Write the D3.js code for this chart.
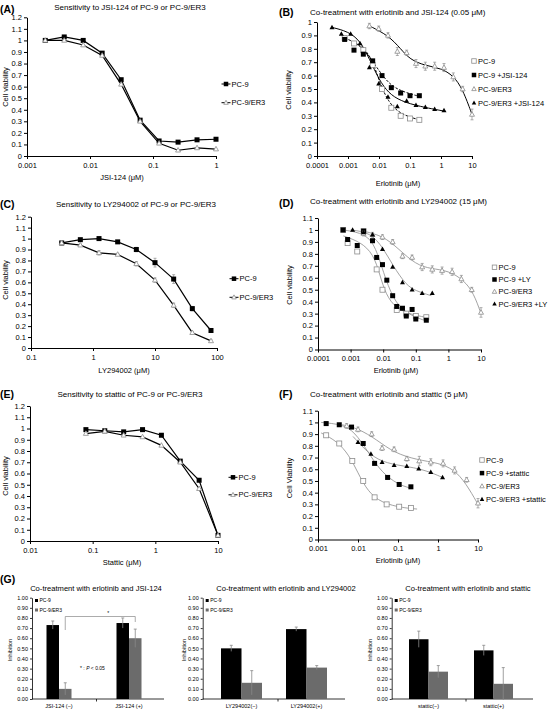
<!DOCTYPE html>
<html><head><meta charset="utf-8">
<script src="https://cdn.jsdelivr.net/npm/d3@7"></script>
<style>
body{margin:0;background:#fff}
svg{display:block}
text{font-family:"Liberation Sans",Arial,sans-serif;fill:#000}
</style>
</head><body><svg id="c" width="551" height="711"></svg>
<script>
// ---------------- DATA ----------------
// Panel A
const A_conc = [0.00195,0.0039,0.0078,0.0156,0.03125,0.0625,0.125,0.25,0.5,1];
const A_pc9  = [1.00,1.03,1.00,0.89,0.66,0.31,0.13,0.12,0.14,0.145];
const A_er3  = [1.00,1.00,0.96,0.87,0.62,0.30,0.11,0.05,0.07,0.06];
const A_xticks = [0.001,0.01,0.1,1];
// Panel B
const B_pc9_x   = [0.00078,0.00156,0.003125,0.00625,0.0125,0.025,0.05,0.1,0.2];
const B_pc9     = [0.88,0.84,0.79,0.68,0.50,0.36,0.30,0.28,0.27];
const B_pc9jsi  = [0.87,0.79,0.76,0.71,0.60,0.51,0.47,0.45,0.45];
const B_er3_x   = [0.0049,0.0098,0.0195,0.039,0.078,0.156,0.3125,0.625,1.25,2.5,5,10];
const B_er3     = [0.97,0.95,0.90,0.78,0.77,0.69,0.67,0.67,0.66,0.59,0.50,0.31];
const B_er3_err = [0.02,0.02,0.02,0.03,0.02,0.03,0.03,0.03,0.03,0.03,0.02,0.04];
const B_er3jsi_x= [0.000305,0.00061,0.00122,0.00244,0.0049,0.0098,0.0195,0.039,0.078,0.156,0.3125,0.625,1.25];
const B_er3jsi  = [0.96,0.91,0.91,0.84,0.66,0.54,0.44,0.37,0.41,0.38,0.365,0.35,0.34];
// fitted curves
const B_fit_pc9_x    = [0.0016,0.004,0.007,0.01,0.02,0.05,0.2];
const B_fit_pc9_y    = [0.85,0.79,0.68,0.56,0.40,0.31,0.27];
const B_fit_pc9jsi_x = [0.0008,0.002,0.004,0.008,0.015,0.03,0.08,0.2];
const B_fit_pc9jsi_y = [0.88,0.84,0.77,0.67,0.58,0.51,0.47,0.445];
const B_fit_er3_x    = [0.005,0.02,0.05,0.1,0.3,1,2.5,5,10];
const B_fit_er3_y    = [0.97,0.90,0.80,0.72,0.675,0.655,0.60,0.50,0.31];
const B_fit_er3jsi_x = [0.0003,0.001,0.0025,0.005,0.01,0.02,0.05,0.2,1.25];
const B_fit_er3jsi_y = [0.96,0.93,0.86,0.72,0.57,0.47,0.41,0.37,0.335];
const logTicks4 = [0.0001,0.001,0.01,0.1,1,10];
// Panel C
const C_conc = [0.3125,0.625,1.25,2.5,5,10,20,40,80];
const C_pc9  = [0.96,0.99,1.00,0.97,0.90,0.78,0.63,0.36,0.16];
const C_pc9_err = [0.01,0.01,0.01,0.01,0.02,0.04,0.04,0.02,0.01];
const C_er3  = [0.96,0.94,0.87,0.855,0.77,0.62,0.39,0.14,0.065];
const C_er3_err = [0.01,0.01,0.02,0.01,0.02,0.02,0.02,0.01,0.01];
const C_xticks = [0.1,1,10,100];
// Panel D
const D_pc9_x   = [0.00059,0.00081,0.0016,0.0025,0.0063,0.0095,0.026,0.051,0.10,0.21];
const D_pc9     = [1.00,0.89,0.82,0.99,0.67,0.50,0.33,0.30,0.28,0.27];
const D_pc9ly_x = [0.00059,0.00081,0.0016,0.0025,0.0047,0.0063,0.0095,0.0129,0.0195,0.026,0.039,0.051,0.077,0.10,0.21];
const D_pc9ly   = [1.00,0.92,0.87,0.99,0.91,0.77,0.71,0.58,0.45,0.36,0.345,0.28,0.335,0.255,0.245];
const D_er3_x   = [0.0025,0.0047,0.0095,0.0195,0.039,0.077,0.157,0.32,0.64,1.3,2.5,5.2,10];
const D_er3     = [0.97,0.96,0.94,0.90,0.78,0.77,0.69,0.67,0.66,0.65,0.59,0.50,0.31];
const D_er3_err = [0.02,0.02,0.02,0.02,0.02,0.02,0.03,0.03,0.03,0.03,0.03,0.02,0.04];
const D_er3ly_x = [0.00115,0.0025,0.0047,0.0095,0.0195,0.039,0.077,0.157,0.32];
const D_er3ly   = [1.00,0.98,0.96,0.84,0.69,0.56,0.50,0.47,0.47];
const D_fit_pc9_x   = [0.0006,0.002,0.005,0.008,0.012,0.025,0.08,0.2];
const D_fit_pc9_y   = [0.95,0.90,0.80,0.62,0.46,0.34,0.29,0.27];
const D_fit_pc9ly_x = [0.0006,0.003,0.006,0.01,0.02,0.05,0.2];
const D_fit_pc9ly_y = [1.00,0.97,0.85,0.65,0.42,0.30,0.24];
const D_fit_er3_x   = [0.0025,0.01,0.03,0.1,0.3,1,3,6,10];
const D_fit_er3_y   = [0.99,0.95,0.84,0.71,0.675,0.66,0.58,0.47,0.30];
const D_fit_er3ly_x = [0.001,0.004,0.01,0.02,0.05,0.1,0.3];
const D_fit_er3ly_y = [1.00,0.98,0.85,0.70,0.54,0.49,0.45];
// Panel E
const E_conc = [0.078,0.156,0.3125,0.625,1.25,2.5,5,10];
const E_pc9  = [0.99,0.98,0.97,0.99,0.94,0.71,0.54,0.05];
const E_er3  = [0.955,0.975,0.94,0.925,0.85,0.70,0.465,0.05];
const E_xticks = [0.01,0.1,1,10];
// Panel F
const F_pc9_x   = [0.0016,0.0034,0.0072,0.0135,0.026,0.052,0.107,0.21];
const F_pc9     = [0.89,0.82,0.67,0.50,0.36,0.30,0.28,0.27];
const F_pc9st_x = [0.0016,0.0034,0.0069,0.0135,0.026,0.055,0.107,0.21];
const F_pc9st   = [0.99,0.98,0.96,0.82,0.65,0.53,0.47,0.45];
const F_er3_x   = [0.0052,0.01,0.022,0.04,0.08,0.166,0.34,0.66,1.34,2.6,5.2,10];
const F_er3     = [0.97,0.94,0.90,0.78,0.77,0.69,0.67,0.66,0.65,0.59,0.51,0.31];
const F_er3_err = [0.02,0.02,0.02,0.02,0.02,0.02,0.04,0.03,0.03,0.03,0.02,0.04];
const F_er3st_x = [0.01,0.021,0.04,0.08,0.166,0.33,0.66,1.3];
const F_er3st   = [0.83,0.73,0.66,0.635,0.625,0.605,0.575,0.53];
const F_fit_pc9_x   = [0.0012,0.003,0.006,0.01,0.015,0.03,0.1,0.3];
const F_fit_pc9_y   = [0.91,0.84,0.72,0.57,0.45,0.33,0.275,0.26];
const F_fit_pc9st_x = [0.0012,0.005,0.01,0.02,0.04,0.1,0.2];
const F_fit_pc9st_y = [1.00,0.98,0.88,0.72,0.57,0.47,0.44];
const F_fit_er3_x   = [0.004,0.01,0.03,0.08,0.3,1,2.5,5,10];
const F_fit_er3_y   = [0.98,0.95,0.85,0.74,0.68,0.655,0.60,0.48,0.30];
const F_fit_er3st_x = [0.0075,0.02,0.05,0.2,0.5,1.3];
const F_fit_er3st_y = [0.88,0.72,0.65,0.62,0.59,0.53];
const F_xticks = [0.001,0.01,0.1,1,10];
// Panel G
const G1_cats = ["JSI-124 (\u2212)","JSI-124 (+)"];
const G1_pc9 = [0.73,0.75], G1_pc9_err = [0.04,0.05];
const G1_er3 = [0.10,0.60], G1_er3_err = [0.06,0.09];
const G2_cats = ["LY294002(\u2212)","LY294002(+)"];
const G2_pc9 = [0.50,0.69], G2_pc9_err = [0.03,0.02];
const G2_er3 = [0.16,0.31], G2_er3_err = [0.12,0.02];
const G3_cats = ["stattic(\u2212)","stattic(+)"];
const G3_pc9 = [0.59,0.48], G3_pc9_err = [0.08,0.05];
const G3_er3 = [0.27,0.15], G3_er3_err = [0.06,0.16];
const G_yticks = d3.range(0,11).map(i=>i/10);

// ---------------- DRAW ----------------
const svg = d3.select('#c');
const GRAY = '#8c8c8c';
const zip = (xs,ys,es)=>xs.map((x,i)=>({x,y:ys[i],e:es?es[i]:0}));

function marker(g, sym, cx, cy, s){
  if(sym==='sq'||sym==='osq'){
    g.append('rect').attr('x',cx-s/2).attr('y',cy-s/2).attr('width',s).attr('height',s)
      .attr('fill',sym==='sq'?'#000':'#fff').attr('stroke',sym==='sq'?'#000':GRAY).attr('stroke-width',sym==='sq'?0:0.8);
  } else {
    const h=s*0.9, w=s;
    g.append('path').attr('d',`M${cx},${cy-h*0.6}L${cx+w/2},${cy+h*0.4}L${cx-w/2},${cy+h*0.4}Z`)
      .attr('fill',sym==='tri'?'#000':'#fff').attr('stroke',sym==='tri'?'#000':GRAY).attr('stroke-width',sym==='tri'?0:0.8);
  }
}

function linePanel(o){
  const g = svg.append('g');
  const x = d3.scaleLog().domain(o.xd).range(o.xr);
  const y = d3.scaleLinear().domain(o.yd).range(o.yr);
  const fs = o.fs||7.5;
  const ya = g.append('g').attr('transform',`translate(${o.xr[0]},0)`)
    .call(d3.axisLeft(y).tickValues(o.yt).tickFormat(d=>String(+d.toFixed(1))).tickSize(3).tickSizeOuter(0).tickPadding(2));
  const xa = g.append('g').attr('transform',`translate(0,${o.yr[0]})`)
    .call(d3.axisBottom(x).tickValues(o.xt).tickFormat(d=>String(d)).tickSize(o.xtick||3).tickSizeOuter(0).tickPadding(o.xpad!=null?o.xpad:3.5));
  [ya,xa].forEach(a=>{a.selectAll('text').style('font-size',fs+'px').attr('fill','#000');
    a.selectAll('path,line').attr('stroke','#000').attr('stroke-width',1);});
  const lf = d3.line().x(d=>x(d.x)).y(d=>y(d.y)).curve(d3.curveBasis);
  const ll = d3.line().x(d=>x(d.x)).y(d=>y(d.y));
  o.series.forEach(s=>{
    if(s.fit){
      g.append('path').attr('d',lf(zip(s.fit[0],s.fit[1]))).attr('fill','none')
        .attr('stroke',s.fitColor||'#000').attr('stroke-width',s.fitW||1)
        .attr('stroke-dasharray',s.dash||null);
    }
    if(s.line){
      g.append('path').attr('d',ll(zip(s.x,s.y))).attr('fill','none').attr('stroke','#000').attr('stroke-width',1.2);
    }
  });
  o.series.forEach(s=>{
    const pts = zip(s.x,s.y,s.err);
    if(s.err){
      pts.forEach(p=>{
        const x0=x(p.x), y1=y(p.y+p.e), y2=y(p.y-p.e);
        g.append('line').attr('x1',x0).attr('x2',x0).attr('y1',y1).attr('y2',y2).attr('stroke',GRAY).attr('stroke-width',0.7);
        g.append('line').attr('x1',x0-1.5).attr('x2',x0+1.5).attr('y1',y1).attr('y2',y1).attr('stroke',GRAY).attr('stroke-width',0.7);
        g.append('line').attr('x1',x0-1.5).attr('x2',x0+1.5).attr('y1',y2).attr('y2',y2).attr('stroke',GRAY).attr('stroke-width',0.7);
      });
    }
    pts.forEach(p=>marker(g,s.sym,x(p.x),y(p.y),s.size||5));
  });
  g.append('text').attr('x',o.letter[0]).attr('y',o.letter[1]).text(o.letter[2])
    .style('font-size','10.5px').style('font-weight','bold');
  g.append('text').attr('x',o.title[0]).attr('y',o.title[1]).attr('text-anchor',o.title[3]||'middle')
    .style('font-size',(o.titleFs||8)+'px').attr('fill','#222').text(o.title[2]);
  g.append('text').attr('transform',`translate(${o.ylab[0]},${o.ylab[1]}) rotate(-90)`).attr('text-anchor','middle')
    .style('font-size',fs+'px').text(o.ylab[2]);
  g.append('text').attr('x',o.xlab[0]).attr('y',o.xlab[1]).attr('text-anchor','middle')
    .style('font-size',fs+'px').text(o.xlab[2]);
  const L=o.legend;
  L.items.forEach((it,i)=>{
    const cy=L.y+i*L.dy;
    if(it.line){
      g.append('line').attr('x1',L.x-4.5).attr('x2',L.x+4.5).attr('y1',cy).attr('y2',cy).attr('stroke','#000').attr('stroke-width',1);
    }
    marker(g,it.sym,L.x,cy,it.size||4.5);
    g.append('text').attr('x',L.x+(it.line?5.5:4)).attr('y',cy+2.6).style('font-size',(L.fs||7.5)+'px').text(it.label);
  });
}

const yt12 = d3.range(0,13).map(i=>i/10);
const yt11 = d3.range(0,12).map(i=>i/10);
const yt10 = d3.range(0,11).map(i=>i/10);

// A
linePanel({xd:[0.001,1],xr:[27,216],yd:[0,1.2],yr:[156,17.3],yt:yt12,xt:A_xticks,
  series:[{x:A_conc,y:A_pc9,sym:'sq',line:true,size:5},{x:A_conc,y:A_er3,sym:'otri',line:true,size:5}],
  letter:[0,13,'(A)'],title:[130,9.5,'Sensitivity to JSI-124 of PC-9 or PC-9/ER3'],
  ylab:[8,87,'Cell viability'],xlab:[122,180,'JSI-124 (\u03bcM)'],
  legend:{x:226,y:84,dy:18.7,items:[{label:'PC-9',sym:'sq',line:true},{label:'PC-9/ER3',sym:'otri',line:true}]}});
// B
linePanel({xd:[0.0001,10],xr:[317,472],yd:[0,1],yr:[156,22],yt:yt10,xt:logTicks4,
  series:[
    {x:B_pc9_x,y:B_pc9,sym:'osq',fit:[B_fit_pc9_x,B_fit_pc9_y],dash:'2.5,1.5'},
    {x:B_pc9_x,y:B_pc9jsi,sym:'sq',fit:[B_fit_pc9jsi_x,B_fit_pc9jsi_y],dash:'2.5,1.5'},
    {x:B_er3_x,y:B_er3,err:B_er3_err,sym:'otri',fit:[B_fit_er3_x,B_fit_er3_y]},
    {x:B_er3jsi_x,y:B_er3jsi,sym:'tri',fit:[B_fit_er3jsi_x,B_fit_er3jsi_y]}],
  letter:[279,16,'(B)'],title:[310,15,'Co-treatment with erlotinib and JSI-124 (0.05 \u03bcM)','start'],
  ylab:[291,90,'Cell viability'],xlab:[398,186,'Erlotinib (\u03bcM)'],
  legend:{x:474,y:61,dy:14,items:[{label:'PC-9',sym:'osq'},{label:'PC-9 +JSI-124',sym:'sq'},{label:'PC-9/ER3',sym:'otri'},{label:'PC-9/ER3 +JSI-124',sym:'tri'}]}});
// C
linePanel({xd:[0.1,100],xr:[31,217],yd:[0,1.2],yr:[348,216.7],yt:yt12,xt:C_xticks,
  series:[{x:C_conc,y:C_pc9,err:C_pc9_err,sym:'sq',line:true,size:5},{x:C_conc,y:C_er3,err:C_er3_err,sym:'otri',line:true,size:5}],
  letter:[0,208,'(C)'],title:[136,206.5,'Sensitivity to LY294002 of PC-9 or PC-9/ER3'],
  ylab:[8,280,'Cell viability'],xlab:[124,373,'LY294002 (\u03bcM)'],
  legend:{x:234,y:278.7,dy:18.6,items:[{label:'PC-9',sym:'sq',line:true},{label:'PC-9/ER3',sym:'otri',line:true}]}});
// D
linePanel({xd:[0.0001,10],xr:[318,481],yd:[0,1.1],yr:[349.5,218],yt:yt11,xt:logTicks4,
  series:[
    {x:D_pc9_x,y:D_pc9,sym:'osq',fit:[D_fit_pc9_x,D_fit_pc9_y],fitColor:GRAY,fitW:0.8},
    {x:D_pc9ly_x,y:D_pc9ly,sym:'sq',fit:[D_fit_pc9ly_x,D_fit_pc9ly_y],fitColor:GRAY,fitW:0.8},
    {x:D_er3_x,y:D_er3,err:D_er3_err,sym:'otri',fit:[D_fit_er3_x,D_fit_er3_y],fitColor:GRAY,fitW:0.8},
    {x:D_er3ly_x,y:D_er3ly,sym:'tri',fit:[D_fit_er3ly_x,D_fit_er3ly_y],fitColor:GRAY,fitW:0.8}],
  letter:[279,207,'(D)'],title:[310,203.5,'Co-treatment with erlotinib and LY294002 (15 \u03bcM)','start'],
  ylab:[292,285,'Cell viability'],xlab:[396,373,'Erlotinib (\u03bcM)'],
  legend:{x:494.5,y:267.3,dy:12.2,items:[{label:'PC-9',sym:'osq'},{label:'PC-9 +LY',sym:'sq'},{label:'PC-9/ER3',sym:'otri'},{label:'PC-9/ER3 +LY',sym:'tri'}]}});
// E
linePanel({xd:[0.01,10],xr:[30,218],yd:[0,1.2],yr:[541,406],yt:yt12,xt:E_xticks,
  series:[{x:E_conc,y:E_pc9,sym:'sq',line:true,size:5},{x:E_conc,y:E_er3,sym:'otri',line:true,size:5}],
  letter:[0,398,'(E)'],title:[130,397,'Sensitivity to stattic of PC-9 or PC-9/ER3'],
  ylab:[8,476,'Cell viability'],xlab:[122,565,'Stattic (\u03bcM)'],
  legend:{x:233,y:477.3,dy:17.5,items:[{label:'PC-9',sym:'sq',line:true},{label:'PC-9/ER3',sym:'otri',line:true}]}});
// F
linePanel({xd:[0.001,10],xr:[318,478],yd:[0,1.1],yr:[539.5,410.7],yt:yt11,xt:F_xticks,
  series:[
    {x:F_pc9_x,y:F_pc9,sym:'osq',fit:[F_fit_pc9_x,F_fit_pc9_y],fitColor:GRAY,fitW:0.8},
    {x:F_pc9st_x,y:F_pc9st,sym:'sq',fit:[F_fit_pc9st_x,F_fit_pc9st_y],fitColor:GRAY,fitW:0.8},
    {x:F_er3_x,y:F_er3,err:F_er3_err,sym:'otri',fit:[F_fit_er3_x,F_fit_er3_y],fitColor:GRAY,fitW:0.8},
    {x:F_er3st_x,y:F_er3st,sym:'tri',fit:[F_fit_er3st_x,F_fit_er3st_y],fitColor:GRAY,fitW:0.8}],
  letter:[279,398,'(F)'],title:[310,397,'Co-treatment with erlotinib and stattic (5 \u03bcM)','start'],
  ylab:[292,478,'Cell Viability'],xlab:[398,563,'Erlotinib (\u03bcM)'],
  legend:{x:482,y:460,dy:13.1,items:[{label:'PC-9',sym:'osq'},{label:'PC-9 +stattic',sym:'sq'},{label:'PC-9/ER3',sym:'otri'},{label:'PC-9/ER3 +stattic',sym:'tri'}]}});

// G bar charts
function barPanel(o){
  const g = svg.append('g');
  const x = d3.scaleBand().domain(o.cats).range(o.br).paddingInner(0).paddingOuter(0);
  const y = d3.scaleLinear().domain([0,1]).range([699,597.7]);
  const ya = g.append('g').attr('transform',`translate(${o.ax},0)`)
    .call(d3.axisLeft(y).tickValues(G_yticks).tickFormat(d3.format('.2f')).tickSize(2).tickSizeOuter(0).tickPadding(2));
  const xa = g.append('g').attr('transform',`translate(0,699)`)
    .call(d3.axisBottom(x).tickSize(0).tickPadding(5));
  xa.select('.domain').attr('d',`M${o.ax},0H${o.axEnd}`);
  xa.append('line').attr('x1',o.sep).attr('x2',o.sep).attr('y1',0).attr('y2',2.5).attr('stroke','#000');
  [ya,xa].forEach(a=>{a.selectAll('text').style('font-size','5.5px').attr('fill','#000');
    a.selectAll('path,line').attr('stroke','#000').attr('stroke-width',0.8);});
  const bw = o.bw;
  o.cats.forEach((c,i)=>{
    const cx = x(c)+x.bandwidth()/2;
    [[o.pc9,o.pc9e,'#000',cx-bw],[o.er3,o.er3e,'#6b6b6b',cx]].forEach(([v,e,col,bx])=>{
      g.append('rect').attr('x',bx).attr('y',y(v[i])).attr('width',bw).attr('height',699-y(v[i])).attr('fill',col);
      const ex=bx+bw/2;
      g.append('line').attr('x1',ex).attr('x2',ex).attr('y1',y(v[i]+e[i])).attr('y2',y(v[i]-e[i])).attr('stroke','#888').attr('stroke-width',0.8);
      g.append('line').attr('x1',ex-1.5).attr('x2',ex+1.5).attr('y1',y(v[i]+e[i])).attr('y2',y(v[i]+e[i])).attr('stroke','#888').attr('stroke-width',0.8);
    });
  });
  g.append('text').attr('x',o.title[0]).attr('y',590.5).attr('text-anchor','middle').style('font-size','7.6px').attr('fill','#222').text(o.title[1]);
  g.append('text').attr('transform',`translate(${o.ylab},650) rotate(-90)`).attr('text-anchor','middle').style('font-size','5.5px').text('Inhibition');
  [['PC-9','#000'],['PC-9/ER3','#6b6b6b']].forEach(([l,c],i)=>{
    const ly=602+i*9.5;
    g.append('rect').attr('x',o.ax+3).attr('y',ly-3).attr('width',3).attr('height',3).attr('fill',c);
    g.append('text').attr('x',o.ax+7.5).attr('y',ly).style('font-size','5px').text(l);
  });
  return {g,x,y,bw};
}
const g1 = barPanel({cats:G1_cats,ax:32,axEnd:164,br:[24,164],sep:96.5,bw:12.5,pc9:G1_pc9,pc9e:G1_pc9_err,er3:G1_er3,er3e:G1_er3_err,title:[96,'Co-treatment with erlotinib and JSI-124'],ylab:12});
barPanel({cats:G2_cats,ax:202.7,axEnd:345,br:[209,339],sep:278,bw:20.5,pc9:G2_pc9,pc9e:G2_pc9_err,er3:G2_er3,er3e:G2_er3_err,title:[286,'Co-treatment with erlotinib and LY294002'],ylab:186});
barPanel({cats:G3_cats,ax:391.7,axEnd:533,br:[396,526],sep:466,bw:19.5,pc9:G3_pc9,pc9e:G3_pc9_err,er3:G3_er3,er3e:G3_er3_err,title:[468,'Co-treatment with erlotinib and stattic'],ylab:372});
svg.append('text').attr('x',0).attr('y',583).text('(G)').style('font-size','10.5px').style('font-weight','bold');
// significance bracket on G1
{
  const {g,x,y,bw}=g1;
  const xl = x(G1_cats[0])+x.bandwidth()/2+bw/2, xr = x(G1_cats[1])+x.bandwidth()/2+bw/2;
  const top=616.5;
  g.append('path').attr('d',`M${xl},630V${top}H${xr}V622`).attr('fill','none').attr('stroke','#888').attr('stroke-width',0.7);
  g.append('text').attr('x',(xl+xr)/2+8).attr('y',615).attr('text-anchor','middle').style('font-size','5px').text('*');
  const t=g.append('text').attr('x',80).attr('y',670).style('font-size','5px');
  t.append('tspan').text('* : ');
  t.append('tspan').style('font-style','italic').text('P');
  t.append('tspan').text(' < 0.05');
}
</script>
</body></html>
